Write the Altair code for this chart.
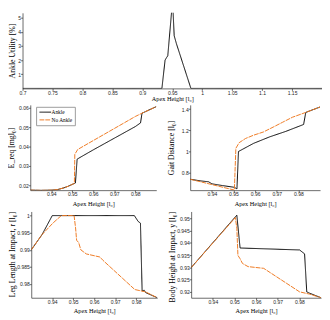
import altair as alt
import pandas as pd

ORANGE = "#EE7A22"
SERIES = ["Ankle", "No Ankle"]

# ---- Ankle utility (top panel) ----
util_x = [0.70, 0.9327, 0.938, 0.9408, 0.9425, 0.9505, 0.9532, 0.957, 0.9623, 0.9811, 1.20]
util_y = [0.0, 0.0, 2.0, 2.2, 2.3, 6.2, 3.72, 3.15, 2.46, 0.0, 0.0]

# ---- E_req ----
eb_x = [0.930, 0.935, 0.940, 0.943, 0.946, 0.948, 0.950, 0.9515, 0.9523, 0.955, 0.960, 0.965, 0.970, 0.975, 0.980, 0.9825, 0.9832, 0.990]
eb_y = [0.0175, 0.0174, 0.0175, 0.0178, 0.0187, 0.0195, 0.0205, 0.0212, 0.0335, 0.0352, 0.0383, 0.0413, 0.0443, 0.0473, 0.0503, 0.0522, 0.0572, 0.0606]
eo_x = [0.930, 0.935, 0.940, 0.943, 0.946, 0.948, 0.950, 0.9510, 0.9512, 0.9526, 0.960, 0.965, 0.970, 0.975, 0.980, 0.9832, 0.990]
eo_y = [0.0175, 0.0174, 0.0175, 0.0178, 0.0187, 0.0195, 0.0205, 0.0210, 0.0360, 0.0385, 0.0431, 0.0462, 0.0493, 0.0524, 0.0555, 0.0572, 0.0606]

# ---- Gait distance ----
gb_x = [0.930, 0.935, 0.9385, 0.940, 0.945, 0.9504, 0.9516, 0.9523, 0.9593, 0.9667, 0.9742, 0.9824, 0.9834, 0.990]
gb_y = [0.738, 0.722, 0.714, 0.695, 0.678, 0.662, 0.647, 1.000, 1.077, 1.138, 1.190, 1.255, 1.369, 1.420]
go_x = [0.930, 0.9504, 0.9511, 0.9526, 0.9556, 0.9593, 0.9638, 0.9683, 0.9727, 0.9772, 0.9834, 0.990]
go_y = [0.738, 0.636, 1.030, 1.083, 1.123, 1.154, 1.184, 1.230, 1.276, 1.323, 1.369, 1.420]

# ---- Leg length at impact ----
lb_x = [0.930, 0.9352, 0.940, 0.9791, 0.9809, 0.982, 0.9828, 0.9838, 0.9845, 0.990]
lb_y = [0.990, 0.9945, 1.000, 1.000, 0.9983, 0.9978, 0.9780, 0.9782, 0.9775, 0.9760]
lo_x = [0.930, 0.9352, 0.9403, 0.9443, 0.9504, 0.9511, 0.9516, 0.9526, 0.9536, 0.9562, 0.9627, 0.9642, 0.9793, 0.9845, 0.990]
lo_y = [0.990, 0.9945, 0.9978, 1.000, 1.000, 0.9964, 0.9928, 0.9921, 0.9900, 0.9888, 0.9879, 0.9869, 0.9784, 0.9777, 0.9760]

# ---- Body height at impact ----
bb_x = [0.930, 0.9511, 0.9526, 0.9801, 0.9824, 0.9834, 0.9846, 0.990]
bb_y = [0.9299, 0.9513, 0.9379, 0.9371, 0.9355, 0.9200, 0.9195, 0.9176]
bo_x = [0.930, 0.9504, 0.9511, 0.9516, 0.9526, 0.9537, 0.9563, 0.9635, 0.9801, 0.9846, 0.990]
bo_y = [0.9299, 0.9503, 0.9460, 0.9349, 0.9335, 0.9316, 0.9303, 0.9296, 0.9200, 0.9191, 0.9176]

top_xticks = [0.7, 0.75, 0.8, 0.85, 0.9, 0.95, 1.0, 1.05, 1.1, 1.15]
low_xticks = [0.94, 0.95, 0.96, 0.97, 0.98]
util_yticks = [1, 2, 3, 4, 5]
e_yticks = [0.02, 0.03, 0.04, 0.05, 0.06]
g_yticks = [0.8, 1.0, 1.2, 1.4]
l_yticks = [0.98, 0.985, 0.99, 0.995, 1.0]
b_yticks = [0.92, 0.925, 0.93, 0.935, 0.94, 0.945, 0.95]

XTITLE = "Apex Height [l₀]"

LEGEND = alt.Legend(title=None, orient="none", legendX=14, legendY=97,
                    symbolType="M-2,0L2,0", symbolSize=36, symbolStrokeWidth=1,
                    labelFont="Liberation Serif", labelFontSize=5.5, rowPadding=1,
                    padding=2, strokeColor="#9a9a9a", fillColor="white",
                    labelOffset=3, symbolOffset=4)


def frame(xs, ys, name):
    return pd.DataFrame({"x": xs, "y": ys, "s": name, "o": list(range(len(xs)))})


def panel(df, xdom, xvals, ydom, yvals, ytitle, w, h, xtpad=3.5, yext=14, yanchor="middle"):
    return alt.Chart(df).mark_line(clip=True, strokeWidth=1).encode(
        x=alt.X("x:Q", scale=alt.Scale(domain=xdom, nice=False, zero=False),
                axis=alt.Axis(values=xvals, format="~g", title=XTITLE, titlePadding=xtpad)),
        y=alt.Y("y:Q", scale=alt.Scale(domain=ydom, nice=False, zero=False),
                axis=alt.Axis(values=yvals, format="~g", title=ytitle, minExtent=yext,
                              maxExtent=yext, titleAnchor=yanchor)),
        color=alt.Color("s:N", scale=alt.Scale(domain=SERIES, range=["#000000", ORANGE]), legend=LEGEND),
        strokeDash=alt.StrokeDash("s:N", scale=alt.Scale(domain=SERIES, range=[[1, 0], [5, 1]]), legend=LEGEND),
        order="o:Q",
    ).properties(width=w, height=h)


def spacer(h):
    return alt.Chart(pd.DataFrame({"a": [0]})).mark_point(opacity=0).encode(
        x=alt.X("a:Q", axis=None), y=alt.Y("a:Q", axis=None)).properties(width=1, height=h)


LW, RW = 130, 134
top = panel(frame(util_x, util_y, "Ankle"), [0.7, 1.2], top_xticks, [0, 5.34], util_yticks,
            "Ankle Utility [%]", 309, 78, xtpad=0, yext=5)

p_e = panel(pd.concat([frame(eb_x, eb_y, "Ankle"), frame(eo_x, eo_y, "No Ankle")]),
            [0.93, 0.99], low_xticks, [0.0175, 0.0615], e_yticks, "E_req [mgl₀]", LW, 88)
p_g = panel(pd.concat([frame(gb_x, gb_y, "Ankle"), frame(go_x, go_y, "No Ankle")]),
            [0.93, 0.99], low_xticks, [0.635, 1.44], g_yticks, "Gait Distance [l₀]", RW, 88)
p_l = panel(pd.concat([frame(lb_x, lb_y, "Ankle"), frame(lo_x, lo_y, "No Ankle")]),
            [0.93, 0.99], low_xticks, [0.976, 1.0012], l_yticks, "Leg Length at Impact, r [l₀]", LW, 89,
            yanchor="end")
p_b = panel(pd.concat([frame(bb_x, bb_y, "Ankle"), frame(bo_x, bo_y, "No Ankle")]),
            [0.93, 0.99], low_xticks, [0.9176, 0.9528], b_yticks, "Body Height at Impact, y [l₀]", RW, 89,
            yanchor="end")

row1 = alt.hconcat(spacer(88), alt.hconcat(p_e, p_g, spacing=35, bounds="flush"), spacing=-19)
row2 = alt.hconcat(spacer(89), alt.hconcat(p_l, p_b, spacing=35, bounds="flush"), spacing=-19)
chart = alt.concat(top, row1, row2, columns=1, align="none", spacing=3).properties(
    padding=0
).configure_view(
    stroke=None
).configure_axis(
    grid=False, domainColor="#262626", domainWidth=0.7, tickColor="#262626", tickWidth=0.7,
    tickSize=2, labelPadding=0, labelFont="Liberation Sans", labelFontSize=5.2, labelColor="#262626",
    labelFlush=False, labelOverlap=False, titleFont="Liberation Serif", titleFontWeight="normal",
    titleColor="#000000", titleFontSize=6.5
).configure_axisY(titleFontSize=8, titlePadding=1).configure_legend(
    labelColor="#000000"
)

chart.save("out.html", embed_options={"renderer": "svg", "actions": False})
